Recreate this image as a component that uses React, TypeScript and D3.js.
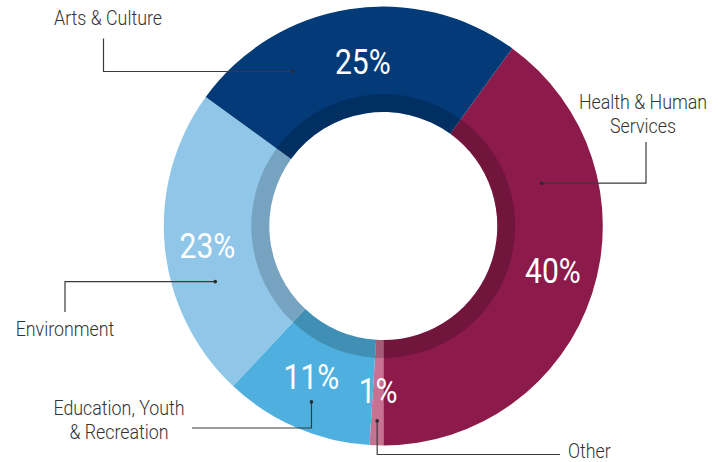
import React from "react";
import * as d3 from "d3";

const categories = [
  "Health & Human Services",
  "Other",
  "Education, Youth & Recreation",
  "Environment",
  "Arts & Culture",
];
const values = [40, 1, 11, 23, 25];
const percentLabels = ["40%", "1%", "11%", "23%", "25%"];
const nameLines = [
  ["Health & Human", "Services"],
  ["Other"],
  ["Education, Youth", "& Recreation"],
  ["Environment"],
  ["Arts & Culture"],
];
const colors = ["#8c1a4b", "#c97191", "#4fb0df", "#90c7e9", "#033a78"];

// annotation layout (percent label placement, leader lines, name labels)
const annotations = [
  { pr: 175.4, pa: -3.3, frac: 0.27, r: 164, kind: "hv", ex: 646, ey: 142, lx: 643, ly: 109, anchor: "middle" },
  { pr: 164.4, pa: 0, frac: 0.5, r: 195, kind: "vh", ex: 560, ey: 454.5, lx: 568, ly: 458, anchor: "start" },
  { pr: 167, pa: 2.1, frac: 0.47, r: 190, kind: "vh", ex: 192, ey: 428, lx: 119, ly: 415, anchor: "middle" },
  { pr: 177, pa: -1, frac: 0.344, r: 177, kind: "hv", ex: 65, ey: 312, lx: 65, ly: 336, anchor: "middle" },
  { pr: 165.5, pa: 1.9, frac: 0.263, r: 179, kind: "hv", ex: 103.5, ey: 38.5, lx: 108, ly: 25, anchor: "middle" },
];

const W = 722;
const H = 462;
const cx = 383.3;
const cy = 226;
const R = 219.5;
const Rin = 114;
const Rband = 132;
const startDeg = 36;
const FONT = "Roboto, 'Liberation Sans', sans-serif";
const SX = 0.87;

export default function App() {
  const start = (startDeg * Math.PI) / 180;
  const pie = d3
    .pie<number>()
    .sort(null)
    .value((d) => d)
    .startAngle(start)
    .endAngle(start + 2 * Math.PI);
  const arcs = pie(values);
  const outer = d3.arc<d3.PieArcDatum<number>>().innerRadius(Rin).outerRadius(R);
  const band = d3.arc<d3.PieArcDatum<number>>().innerRadius(Rin).outerRadius(Rband);

  const polar = (a: number, r: number) => [cx + r * Math.sin(a), cy - r * Math.cos(a)];

  return (
    <svg
      width={W}
      height={H}
      viewBox={`0 0 ${W} ${H}`}
      style={{ position: "absolute", left: 0, top: 0, background: "#fff" }}
    >
      <g transform={`translate(${cx},${cy})`}>
        {arcs.map((a, i) => (
          <path key={"s" + i} d={outer(a) || ""} fill={colors[i]} />
        ))}
        {arcs.map((a, i) => (
          <path key={"b" + i} d={band(a) || ""} fill="#000" fillOpacity={0.18} />
        ))}
      </g>
      {arcs.map((a, i) => {
        const an = annotations[i];
        const mid = (a.startAngle + a.endAngle) / 2 + (an.pa * Math.PI) / 180;
        const [x, y] = polar(mid, an.pr);
        return (
          <text
            key={"p" + i}
            transform={`translate(${x},${y + 12.4}) scale(${SX},1)`}
            textAnchor="middle"
            fill="#fff"
            fontFamily={FONT}
            fontSize={34.5}
          >
            {percentLabels[i]}
          </text>
        );
      })}
      {arcs.map((a, i) => {
        const an = annotations[i];
        const ang = a.startAngle + an.frac * (a.endAngle - a.startAngle);
        const [dx, dy] = polar(ang, an.r);
        const pts =
          an.kind === "hv"
            ? [[dx, dy], [an.ex, dy], [an.ex, an.ey]]
            : [[dx, dy], [dx, an.ey], [an.ex, an.ey]];
        const line = d3.line()(pts as [number, number][]) || "";
        return (
          <g key={"a" + i}>
            <path d={line} fill="none" stroke="#3a3a3a" strokeWidth={1.2} />
            <circle cx={dx} cy={dy} r={1.8} fill="#2a2a2a" />
            <text
              transform={`translate(${an.lx},${an.ly}) scale(${SX},1)`}
              textAnchor={an.anchor as any}
              fill="#333"
              fontFamily={FONT}
              fontWeight={300}
              fontSize={20.5}
            >
              {nameLines[i].map((t, j) => (
                <tspan key={j} x={0} dy={j === 0 ? 0 : 24}>
                  {t}
                </tspan>
              ))}
            </text>
          </g>
        );
      })}
    </svg>
  );
}
